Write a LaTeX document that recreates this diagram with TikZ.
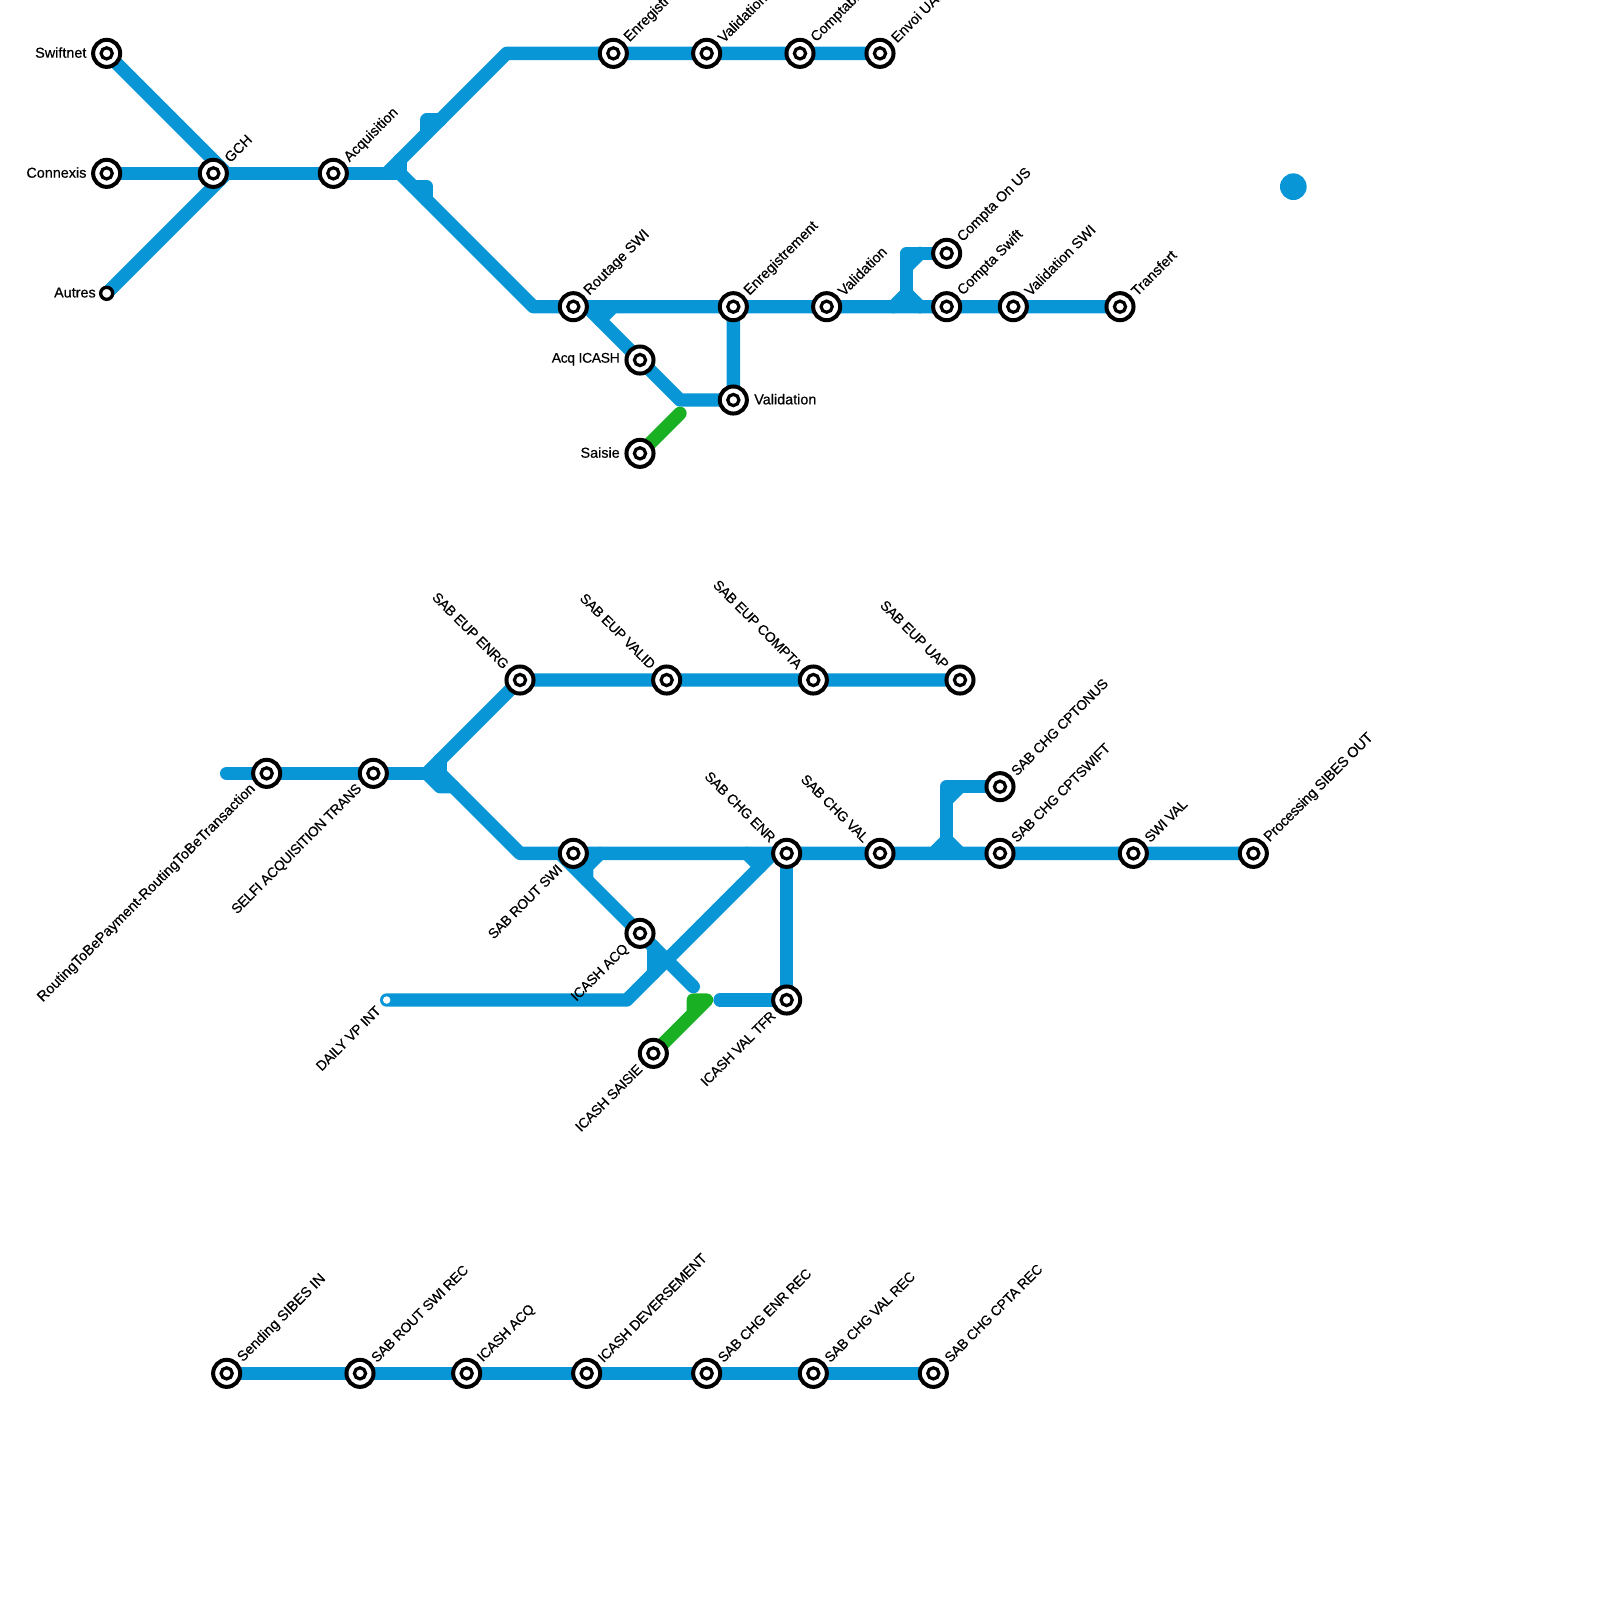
\documentclass[tikz,border=0pt]{standalone}
\usepackage{fontspec}
\setmainfont{Liberation Sans}
\newfontfamily\lblfont{Liberation Sans}[FakeBold=0.45]
\newfontfamily\lblcapsfont{Liberation Sans}[FakeBold=0.45,LetterSpace=-2.5]
\usepackage{tikz}
\usetikzlibrary{backgrounds}
\definecolor{lineblue}{RGB}{9,150,215}
\definecolor{linegreen}{RGB}{26,176,36}
\tikzset{
  stn/.style={circle, draw=black, fill=white, line width=0.3mm, inner sep=0pt, outer sep=0pt, minimum size=2.03mm,
    path picture={\draw[black, line width=0.24mm] (path picture bounding box.center) circle (0.42mm);}},
  stnsmall/.style={circle, draw=black, fill=white, line width=0.25mm, inner sep=0pt, outer sep=0pt, minimum size=0.9mm},
  stnopen/.style={circle, fill=white, inner sep=0pt, outer sep=0pt, minimum size=0.56mm},
  lbl/.style={font=\lblfont\fontsize{3.07}{3.6}\selectfont, inner sep=0pt, text=black},
  caps/.style={font=\lblcapsfont\fontsize{2.97}{3.6}\selectfont},
  capslong/.style={font=\lblcapsfont\fontsize{3.1}{3.6}\selectfont},
  lblne/.style={lbl, rotate=45, anchor=west, xshift=1.37mm},
  lblsw/.style={lbl, caps, rotate=45, anchor=east, xshift=-1.37mm},
  lblnw/.style={lbl, caps, rotate=-45, anchor=east, xshift=-1.37mm},
  lblw/.style={lbl, anchor=east, xshift=-1.45mm, yshift=0.06mm},
  lble/.style={lbl, anchor=west, xshift=1.5mm, yshift=0.06mm},
  track/.style={draw=lineblue, line width=1mm, line cap=round, line join=round},
  trackgreen/.style={draw=linegreen, line width=1mm, line cap=round, line join=round},
}
\begin{document}
\begin{tikzpicture}[x=1mm, y=-1mm]
\useasboundingbox (0,0) rectangle (120,120);
% payment stations, upper network
\node[stn] (swiftnet) at (8,4) {};
\node[stn] (connexis) at (8,13) {};
\node[stnsmall] (autres) at (8,22) {};
\node[stn] (gch) at (16,13) {};
\node[stn] (acquisition) at (25,13) {};
\node[stn] (enreg) at (46,4) {};
\node[stn] (valid) at (53,4) {};
\node[stn] (compta) at (60,4) {};
\node[stn] (envoi) at (66,4) {};
\node[stn] (routage) at (43,23) {};
\node[stn] (enregb) at (55,23) {};
\node[stn] (validb) at (62,23) {};
\node[stn] (comptaswift) at (71,23) {};
\node[stn] (validswi) at (76,23) {};
\node[stn] (transfert) at (84,23) {};
\node[stn] (comptaonus) at (71,19) {};
\node[stn] (acqicash) at (48,27) {};
\node[stn] (validc) at (55,30) {};
\node[stn] (saisie) at (48,34) {};
% labels, upper network
\node[lblw] (swiftnetl) at (swiftnet) {Swiftnet};
\node[lblw] (connexisl) at (connexis) {Connexis};
\node[lblw, xshift=0.7mm] (autresl) at (autres) {Autres};
\node[lblne] (gchl) at (gch) {GCH};
\node[lblne] (acquisitionl) at (acquisition) {Acquisition};
\node[lblne] (enregl) at (enreg) {Enregistrement};
\node[lblne] (validl) at (valid) {Validation};
\node[lblne] (comptal) at (compta) {Comptabilité};
\node[lblne] (envoil) at (envoi) {Envoi UAP};
\node[lblne] (routagel) at (routage) {Routage SWI};
\node[lblne] (enregbl) at (enregb) {Enregistrement};
\node[lblne] (validbl) at (validb) {Validation};
\node[lblne] (comptaswiftl) at (comptaswift) {Compta Swift};
\node[lblne] (comptaonusl) at (comptaonus) {Compta On US};
\node[lblne] (validswil) at (validswi) {Validation SWI};
\node[lblne] (transfertl) at (transfert) {Transfert};
\node[lblw, caps] (acqicashl) at (acqicash) {Acq ICASH};
\node[lblw] (saisiel) at (saisie) {Saisie};
\node[lble] (validcl) at (validc) {Validation};
% bends, upper network
\coordinate (fork) at (17,13);
\coordinate (ja) at (29,13);
\coordinate (jb) at (30,13);
\coordinate (jc) at (30,12);
\coordinate (jd) at (38,4);
\coordinate (je) at (40,23);
\coordinate (jf) at (44,23);
\coordinate (jg) at (51,30);
\coordinate (jh) at (45,24);
\coordinate (ji) at (46,23);
\coordinate (ka) at (32,10);
\coordinate (kb) at (32,9);
\coordinate (kc) at (33,9);
\coordinate (kd) at (31,14);
\coordinate (ke) at (32,14);
\coordinate (kf) at (32,15);
\coordinate (ma) at (67,23);
\coordinate (mb) at (68,22);
\coordinate (mc) at (69,23);
\coordinate (md) at (68,19);
\coordinate (me) at (68,20);
\coordinate (mf) at (69,19);
\coordinate (na) at (51,31);
% station dot on its own
\fill[lineblue] (97,14) circle (1mm);
% lower network
\coordinate (sibstart) at (17,58);
\node[stn] (routing) at (20,58) {};
\node[stn] (selfi) at (28,58) {};
\node[stn] (eupenrg) at (39,51) {};
\node[stn] (eupvalid) at (50,51) {};
\node[stn] (eupcompta) at (61,51) {};
\node[stn] (eupuap) at (72,51) {};
\node[stn] (saboutswi) at (43,64) {};
\node[stn] (chgenr) at (59,64) {};
\node[stn] (chgval) at (66,64) {};
\node[stn] (chgswift) at (75,64) {};
\node[stn] (swival) at (85,64) {};
\node[stn] (processing) at (94,64) {};
\node[stn] (chgonus) at (75,59) {};
\node[stn] (icashacq) at (48,70) {};
\node[stn] (icashtfr) at (59,75) {};
\node[stn] (icashsaisie) at (49,79) {};
\node[stnopen] (dailyvp) at (29,75) {};
% labels, lower network
\node[lblsw, lbl] (routingl) at (routing) {RoutingToBePayment-RoutingToBeTransaction};
\node[lblsw] (selfil) at (selfi) {SELFI ACQUISITION TRANS};
\node[lblnw] (eupenrgl) at (eupenrg) {SAB EUP ENRG};
\node[lblnw] (eupvalidl) at (eupvalid) {SAB EUP VALID};
\node[lblnw] (eupcomptal) at (eupcompta) {SAB EUP COMPTA};
\node[lblnw] (eupuapl) at (eupuap) {SAB EUP UAP};
\node[lblsw] (saboutswil) at (saboutswi) {SAB ROUT SWI};
\node[lblnw] (chgenrl) at (chgenr) {SAB CHG ENR};
\node[lblnw] (chgvall) at (chgval) {SAB CHG VAL};
\node[lblne, caps] (chgswiftl) at (chgswift) {SAB CHG CPTSWIFT};
\node[lblne, caps] (chgonusl) at (chgonus) {SAB CHG CPTONUS};
\node[lblne, caps] (swivall) at (swival) {SWI VAL};
\node[lblne, capslong] (processingl) at (processing) {Processing SIBES OUT};
\node[lblsw] (icashacql) at (icashacq) {ICASH ACQ};
\node[lblsw] (icashtfrl) at (icashtfr) {ICASH VAL TFR};
\node[lblsw] (icashsaisiel) at (icashsaisie) {ICASH SAISIE};
\node[lblsw, xshift=0.55mm] (dailyvpl) at (dailyvp) {DAILY VP INT};
% bends, lower network
\coordinate (pa) at (32,58);
\coordinate (pb) at (33,58);
\coordinate (pc) at (33,57);
\coordinate (pd) at (33,59);
\coordinate (pe) at (34,59);
\coordinate (pf) at (39,64);
\coordinate (qa) at (42,64);
\coordinate (qb) at (52,74);
\coordinate (qc) at (45,64);
\coordinate (qd) at (44,65);
\coordinate (qe) at (44,66);
\coordinate (qf) at (47,75);
\coordinate (qg) at (58,64);
\coordinate (qh) at (56,64);
\coordinate (qi) at (57,65);
\coordinate (qj) at (49,71);
\coordinate (qk) at (49,73);
\coordinate (ra) at (54,75);
\coordinate (rb) at (70,64);
\coordinate (rc) at (71,63);
\coordinate (rd) at (72,64);
\coordinate (re) at (71,59);
\coordinate (rf) at (71,60);
\coordinate (rg) at (72,59);
\coordinate (sa) at (52,76);
\coordinate (sb) at (52,75);
\coordinate (sc) at (53,75);
% recording line
\node[stn] (sendsibes) at (17,103) {};
\node[stn] (routrec) at (27,103) {};
\node[stn] (icashrec) at (35,103) {};
\node[stn] (deversement) at (44,103) {};
\node[stn] (enrrec) at (53,103) {};
\node[stn] (valrec) at (61,103) {};
\node[stn] (cptarec) at (70,103) {};
\node[lblne] (sendsibesl) at (sendsibes) {Sending SIBES IN};
\node[lblne, caps] (routrecl) at (routrec) {SAB ROUT SWI REC};
\node[lblne, caps] (icashrecl) at (icashrec) {ICASH ACQ};
\node[lblne, caps] (deversementl) at (deversement) {ICASH DEVERSEMENT};
\node[lblne, caps] (enrrecl) at (enrrec) {SAB CHG ENR REC};
\node[lblne, caps] (valrecl) at (valrec) {SAB CHG VAL REC};
\node[lblne, caps] (cptarecl) at (cptarec) {SAB CHG CPTA REC};
% tracks go under the stations
\begin{scope}[on background layer]
\draw[track] (swiftnet.center) -- (fork);
\draw[track] (connexis.center) -- (gch.center) -- (acquisition.center) -- (jb) -- (jc);
\draw[track] (autres.center) -- (fork);
\draw[track] (ja) -- (jd) -- (envoi.center);
\draw[track] (ka) -- (kb) -- (kc);
\draw[track] (jb) -- (je) -- (transfert.center);
\draw[track] (kd) -- (ke) -- (kf);
\draw[track] (jf) -- (jg) -- (validc.center) -- (enregb.center);
\draw[track] (jh) -- (ji);
\draw[track] (ma) -- (mb) -- (mc);
\draw[track] (mb) -- (md) -- (comptaonus.center);
\draw[track] (me) -- (mf);
\draw[trackgreen] (saisie.center) -- (na);
% lower network
\draw[track] (sibstart) -- (pb) -- (pc);
\draw[track] (pa) -- (eupenrg.center) -- (eupuap.center);
\draw[track] (pa) -- (pd) -- (pe);
\draw[track] (pb) -- (pf) -- (processing.center);
\draw[track] (qa) -- (qb);
\draw[track] (qc) -- (qd) -- (qe);
\draw[track] (dailyvp.center) -- (qf) -- (qg) -- (chgenr.center);
\draw[track] (qh) -- (qi);
\draw[track] (qj) -- (qk);
\draw[track] (ra) -- (icashtfr.center) -- (chgenr.center);
\draw[track] (rb) -- (rc) -- (rd);
\draw[track] (rc) -- (re) -- (chgonus.center);
\draw[track] (rf) -- (rg);
\draw[trackgreen] (icashsaisie.center) -- (sc) -- (sb) -- (sa);
% recording line
\draw[track] (sendsibes.center) -- (cptarec.center);
\end{scope}
\end{tikzpicture}
\end{document}
